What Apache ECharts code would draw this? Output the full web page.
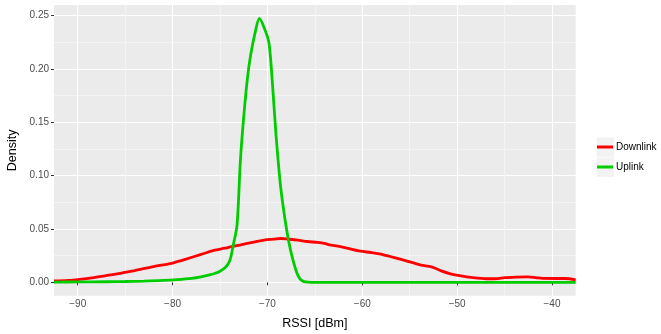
<!DOCTYPE html>
<html>
<head>
<meta charset="utf-8">
<script src="https://cdn.jsdelivr.net/npm/echarts@6/dist/echarts.min.js"></script>
<style>
html,body{margin:0;padding:0;background:#fff;}
#c{width:661px;height:334px;}
</style>
</head>
<body>
<div id="c"></div>
<script>
// ---- data ----
var seriesNames = ['Downlink', 'Uplink'];
var rssiDown = [-92.5,-91,-89.8,-88.5,-87,-85.5,-84,-83.4,-82,-80.5,-79.9,-78.5,-77.07,-75.65,-74.5,-73.89,-72.9,-72.12,-71.3,-70.36,-69.3,-68.6,-67.8,-66.8,-65.8,-64.7,-64,-63.3,-62.2,-61.2,-60.2,-59.06,-58.2,-56.95,-56,-54.8,-53.8,-52.7,-51.6,-50.7,-49.9,-49,-48.1,-46.7,-45.7,-45,-43.8,-42.5,-41.7,-41,-39.5,-38.6,-37.5];
var densityDown = [0.0013,0.0018,0.0028,0.0042,0.0063,0.0085,0.0111,0.0122,0.0148,0.0172,0.0183,0.022,0.026,0.030,0.032,0.0333,0.035,0.0365,0.038,0.0396,0.0405,0.0411,0.0405,0.0396,0.0383,0.0374,0.0365,0.0349,0.0333,0.0311,0.0292,0.028,0.0268,0.024,0.0218,0.0187,0.0162,0.0146,0.0105,0.008,0.0065,0.0052,0.0043,0.0034,0.0036,0.0045,0.005,0.0052,0.0045,0.0037,0.0036,0.0036,0.0024];
var rssiUp = [-92.5,-90,-87,-85,-83,-81,-79.5,-78,-77,-76,-75.5,-75,-74.5,-74.1,-73.89,-73.6,-73.2,-72.85,-72.5,-72.1,-71.75,-71.25,-70.85,-70.35,-69.85,-69.5,-69.1,-68.6,-68.06,-67.7,-67.35,-66.8,-66.3,-65.4,-64,-50,-37.5];
var densityUp = [0.0003,0.0004,0.0006,0.0008,0.0012,0.0018,0.0026,0.0038,0.0052,0.0072,0.0085,0.0105,0.0135,0.018,0.0224,0.035,0.054,0.114,0.155,0.192,0.214,0.236,0.2475,0.239,0.225,0.19,0.139,0.089,0.054,0.036,0.0224,0.0068,0.0012,0.0,0.0,0.0,0.0];
var xTicks = [-90,-80,-70,-60,-50,-40];
var yTicks = [0,0.05,0.10,0.15,0.20,0.25];
var xTitle = 'RSSI [dBm]';
var yTitle = 'Density';
var colors = ['#FF0000', '#00CD00'];

function pairs(xs, ys){ var out=[]; for (var i=0;i<xs.length;i++) out.push([xs[i], ys[i]]); return out; }

var MAJOR = '#FFFFFF', MINOR = '#F4F4F4', NONE = 'rgba(0,0,0,0)';
var FONT = '"Liberation Sans", Arial, Helvetica, sans-serif';

var chart = echarts.init(document.getElementById('c'), null, {renderer:'canvas'});
var option = {
  animation: false,
  backgroundColor: '#FFFFFF',
  grid: {left: 54, top: 5, width: 521.7, height: 290.7, show: true, backgroundColor: '#EBEBEB', borderWidth: 0,
         containLabel: false, outerBoundsMode: 'none'},
  xAxis: [{
    type: 'value', min: -92.5, max: -37.5, interval: 2.5,
    axisLine: {show: false},
    axisTick: {show: false},
    axisLabel: {show: false},
    splitLine: {show: true, lineStyle: {width: 1, color: [NONE, MAJOR, NONE, MINOR]}}
  }, {
    type: 'value', min: -92.5, max: -37.5, position: 'bottom', gridIndex: 0,
    axisLine: {show: false},
    axisTick: {show: true, length: 3, customValues: xTicks, lineStyle: {color: '#333333', width: 1}},
    axisLabel: {show: true, customValues: xTicks, color: '#4D4D4D', fontSize: 10, fontFamily: FONT, margin: 4,
      formatter: function(v){ return String(v).replace('-', '\u2212'); }},
    splitLine: {show: false},
    name: xTitle, nameLocation: 'middle', nameGap: 21,
    nameTextStyle: {color: '#000000', fontSize: 12.5, fontFamily: FONT}
  }],
  yAxis: [{
    type: 'value', min: -0.0125, max: 0.26, interval: 0.0125,
    axisLine: {show: false},
    axisTick: {show: false},
    axisLabel: {show: false},
    splitLine: {show: true, lineStyle: {width: 1, color: [NONE, MAJOR, NONE, MINOR]}}
  }, {
    type: 'value', min: -0.0125, max: 0.26, position: 'left', gridIndex: 0,
    axisLine: {show: false},
    axisTick: {show: true, length: 3, customValues: yTicks, lineStyle: {color: '#333333', width: 1}},
    axisLabel: {show: true, customValues: yTicks, color: '#4D4D4D', fontSize: 10, fontFamily: FONT, margin: 5,
      formatter: function(v){ return v.toFixed(2); }},
    splitLine: {show: false},
    name: yTitle, nameLocation: 'middle', nameGap: 33, nameRotate: 90,
    nameTextStyle: {color: '#000000', fontSize: 12.5, fontFamily: FONT}
  }],
  legend: [{
    data: [seriesNames[0]], orient: 'vertical', left: 597, top: 141, padding: 0,
    icon: 'rect', itemWidth: 16, itemHeight: 3, itemGap: 0,
    textStyle: {color: '#000000', fontSize: 10, fontFamily: FONT, lineHeight: 12, padding: [0,0,0,-2]}
  }, {
    data: [seriesNames[1]], orient: 'vertical', left: 597, top: 161, padding: 0,
    icon: 'rect', itemWidth: 16, itemHeight: 3, itemGap: 0,
    textStyle: {color: '#000000', fontSize: 10, fontFamily: FONT, lineHeight: 12, padding: [0,0,0,-2]}
  }],
  graphic: [
    {type: 'rect', left: 596.5, top: 137.5, z: -1, shape: {width: 17.5, height: 19.3}, style: {fill: '#F2F2F2'}},
    {type: 'rect', left: 596.5, top: 157.5, z: -1, shape: {width: 17.5, height: 19.3}, style: {fill: '#F2F2F2'}}
  ],
  series: [{
    name: seriesNames[0], type: 'line', xAxisIndex: 0, yAxisIndex: 0,
    data: pairs(rssiDown, densityDown), showSymbol: false, smooth: 0.3,
    lineStyle: {color: colors[0], width: 2.8}, itemStyle: {color: colors[0]}, clip: true
  }, {
    name: seriesNames[1], type: 'line', xAxisIndex: 0, yAxisIndex: 0,
    data: pairs(rssiUp, densityUp), showSymbol: false, smooth: 0.3,
    lineStyle: {color: colors[1], width: 2.8}, itemStyle: {color: colors[1]}, clip: true
  }]
};
chart.setOption(option);
</script>
</body>
</html>
